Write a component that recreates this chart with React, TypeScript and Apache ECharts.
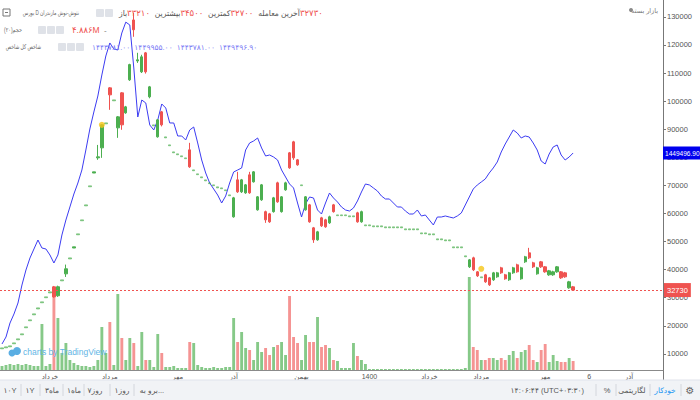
import React, { useEffect, useRef } from "react";
import * as echarts from "echarts";

const FONT = "'Liberation Sans', 'DejaVu Sans', Arial, sans-serif";

// ---- data ----
const SLOT_COUNT = 166;
const categories = Array.from({ length: SLOT_COUNT }, (_, i) => `d${i}`);
const monthTickIndex = [12, 27, 44, 58, 75, 92, 107, 120, 136, 147, 157];
const monthTickText = ["خرداد", "مرداد", "مهر", "آذر", "بهمن", "1400", "خرداد", "مرداد", "مهر", "6", "آذر"];

// [open, close, low, high]
const ohlc: number[][] = [
  [11800, 12160, 11800, 12160], [12160, 12520, 12160, 12520], [12520, 12880, 12520, 12880], [13600, 13940, 13600, 13940],
  [15000, 15370, 15000, 15370], [16800, 17150, 16800, 17150], [19300, 19640, 19300, 19640], [21800, 22130, 21800, 22130],
  [23900, 24270, 23900, 24270], [26000, 26400, 26000, 26400], [28200, 28540, 28200, 28540], [30000, 30320, 30000, 30320],
  [31700, 32100, 31700, 32100], [33880, 30320, 30000, 34200], [30700, 33900, 30300, 34300], [36000, 36370, 36000, 36370],
  [38500, 40300, 37400, 41800], [43800, 44200, 43800, 44200], [47700, 48120, 47700, 48120], [52400, 52750, 52400, 52750],
  [57400, 57730, 57400, 57730], [62700, 63070, 62700, 63070], [69500, 69840, 69500, 69840], [74400, 74820, 74400, 74820],
  [79800, 80160, 79100, 84400], [83360, 91550, 79800, 91800], [91900, 92260, 91900, 92260], [104720, 102230, 96900, 105000],
  [100100, 100450, 100100, 100450], [90480, 94400, 86920, 94700], [102940, 91550, 89800, 103200], [95820, 97960, 95500, 98300],
  [107570, 113000, 107200, 113300], [128900, 125400, 122900, 131400], [114300, 114700, 113600, 117200], [110420, 115760, 110000, 116500],
  [117180, 110420, 109800, 117500], [101520, 105080, 101000, 105400], [91200, 91550, 91200, 91550], [87280, 93330, 87000, 93600],
  [96180, 91550, 91000, 96500], [86900, 87280, 86900, 87280], [84100, 84430, 84100, 84430], [81600, 81940, 81600, 81940],
  [80900, 81230, 80900, 81230], [80200, 80520, 80200, 80520], [79500, 79800, 79500, 79800], [82650, 76600, 76240, 85140],
  [75200, 75530, 75200, 75530], [73800, 74110, 73800, 74110], [72700, 73040, 72700, 73040], [71600, 71970, 71600, 71970],
  [70600, 70900, 70600, 70900], [69900, 70190, 69900, 70190], [69100, 69480, 69100, 69480], [68800, 69120, 68800, 69120],
  [68100, 68410, 68100, 68410], [66300, 66630, 66300, 66630], [58800, 65560, 58500, 65900], [71970, 67700, 67300, 74820],
  [67700, 71970, 67300, 72300], [67340, 70190, 67000, 70500], [73750, 67340, 67000, 74820], [71260, 74820, 71000, 75100],
  [61290, 65920, 61000, 66200], [64850, 70190, 64500, 70500], [60640, 57730, 56660, 61000], [59870, 57020, 56660, 60200],
  [60640, 65560, 60300, 65900], [70900, 64140, 63800, 71300], [60640, 65920, 60300, 66200], [68410, 70900, 68100, 71300],
  [81580, 76240, 75900, 81900], [85500, 79800, 79090, 85860], [79090, 77310, 77000, 79400], [69900, 70190, 69900, 70190],
  [61290, 65920, 61000, 66200], [63070, 57020, 56700, 63400], [54880, 50610, 49540, 55200], [50610, 53460, 50300, 53800],
  [58440, 55600, 55200, 58800], [57730, 55240, 54900, 58100], [56660, 58800, 56300, 59200], [63070, 60640, 60300, 63400],
  [59200, 59510, 59200, 59510], [59200, 59510, 59200, 59510], [59200, 59510, 59200, 59510], [58800, 59160, 58800, 59160],
  [58800, 59160, 58800, 59160], [60220, 57020, 56700, 60600], [57020, 60640, 56700, 61000], [55600, 55950, 55600, 55950],
  [55600, 55950, 55600, 55950], [55240, 55600, 55240, 55600], [55240, 55600, 55240, 55600], [55240, 55600, 55240, 55600],
  [54880, 55240, 54880, 55240], [54880, 55240, 54880, 55240], [54880, 55240, 54880, 55240], [54880, 55240, 54880, 55240],
  [54880, 55240, 54880, 55240], [54170, 54530, 54170, 54530], [54170, 54530, 54170, 54530], [54170, 54530, 54170, 54530],
  [54170, 54530, 54170, 54530], [52750, 53100, 52750, 53100], [52750, 53100, 52750, 53100], [52390, 52750, 52390, 52750],
  [52390, 52750, 52390, 52750], [50610, 50970, 50610, 50970], [50610, 50970, 50610, 50970], [50250, 50610, 50250, 50610],
  [50250, 50610, 50250, 50610], [47760, 48120, 47760, 48120], [47760, 48120, 47760, 48120], [47760, 48120, 47760, 48120],
  [44560, 44920, 44560, 44920], [41000, 43490, 40600, 43800], [44200, 39930, 39500, 44600], [39220, 37800, 37400, 39500],
  [37100, 37440, 37100, 37440], [38150, 35660, 35300, 38500], [37080, 34590, 34200, 37400], [36370, 38860, 36000, 39200],
  [37440, 38860, 37100, 39200], [40640, 38860, 38500, 41000], [38150, 36730, 36400, 38500], [36370, 38860, 36000, 39200],
  [38860, 40640, 38500, 41000], [41710, 39220, 38900, 42100], [36730, 40640, 36400, 41000], [42780, 44560, 42400, 44900],
  [45980, 44200, 43800, 47760], [42420, 41000, 40600, 42800], [38510, 40640, 38200, 41000], [42780, 41000, 40600, 43100],
  [41000, 39220, 38900, 41300], [38150, 39580, 37800, 39900], [38150, 39220, 37800, 39600], [39220, 41000, 38900, 41300],
  [39220, 37080, 36700, 39500], [38860, 37440, 37100, 39200], [33520, 35660, 33200, 36000], [33880, 32730, 32500, 34200],
];

// volume, thousand shares
const volume: number[] = [
  200, 250, 300, 250, 300, 250, 300, 250, 200, 200,
  2300, 200, 300, 3700, 2600, 850, 1350, 500, 350, 250,
  200, 200, 150, 200, 500, 2150, 850, 2400, 250, 3800,
  1600, 500, 1600, 1350, 200, 1900, 500, 500, 150, 1800,
  850, 150, 150, 200, 100, 100, 100, 1400, 1350, 250,
  150, 100, 100, 150, 100, 100, 150, 150, 2600, 1400,
  1900, 1100, 1000, 500, 1400, 900, 1100, 750, 1150, 1250,
  1400, 750, 3700, 1650, 1350, 500, 1750, 1400, 1400, 2650,
  1150, 1250, 1100, 500, 450, 100, 100, 100, 1350, 700,
  500, 300, 50, 50, 50, 50, 50, 50, 50, 50,
  50, 50, 50, 50, 50, 50, 50, 50, 50, 50,
  50, 50, 50, 50, 50, 50, 100, 4650, 1150, 1000,
  500, 500, 600, 600, 500, 600, 500, 750, 950, 600,
  900, 1000, 1250, 500, 400, 1000, 1300, 400, 750, 450,
  400, 400, 600, 450,
];

// overall index (شاخص کل), thousands
const indexValues: number[] = [
  558.5, 591.1, 656.4, 698.4, 749.7, 833.7, 903.7, 959.7, 1001.7, 1043.6,
  1006.3, 1001.7, 973.7, 936.3, 973.7, 1067.0, 1136.9, 1197.6, 1258.2, 1309.5,
  1370.2, 1463.5, 1561.5, 1640.8, 1715.4, 1813.4, 1902.0, 1962.7, 1934.7, 1930.0,
  2009.3, 2060.0, 2046.6, 1846.0, 1617.4, 1696.7, 1682.8, 1580.1, 1556.8, 1603.4,
  1678.1, 1659.4, 1589.5, 1589.5, 1528.8, 1528.8, 1510.1, 1556.8, 1570.8, 1496.2,
  1416.8, 1356.2, 1309.5, 1281.6, 1253.6, 1216.2, 1248.9, 1309.5, 1360.9, 1370.2,
  1379.5, 1463.5, 1496.2, 1505.5, 1519.5, 1472.8, 1435.5, 1440.2, 1430.8, 1416.8,
  1370.2, 1337.5, 1304.9, 1286.2, 1216.2, 1150.9, 1211.6, 1244.2, 1239.6, 1183.6,
  1164.9, 1216.2, 1262.9, 1239.6, 1220.9, 1197.6, 1183.6, 1178.9, 1192.9, 1225.6,
  1267.6, 1304.9, 1300.2, 1286.2, 1272.2, 1248.9, 1234.9, 1234.9, 1216.2, 1197.6,
  1197.6, 1178.9, 1164.9, 1164.9, 1183.6, 1155.6, 1160.3, 1136.9, 1113.6, 1150.9,
  1150.9, 1155.6, 1150.9, 1146.3, 1155.6, 1169.6, 1206.9, 1244.2, 1281.6, 1300.2,
  1314.2, 1328.2, 1356.2, 1379.5, 1407.5, 1454.2, 1491.5, 1524.1, 1556.8, 1542.8,
  1519.5, 1528.8, 1524.1, 1496.2, 1463.5, 1412.2, 1398.2, 1444.8, 1477.5, 1486.8,
  1440.2, 1416.8, 1430.8, 1449.4969,
];

const markerIndex = [25, 120];
const markerPrice = [91550, 40290];
const lastPrice = 32730;
const lastIndexLabel = "1449496.90";

const ohlcLabels = ["باز", "بیشترین", "کمترین", "آخرین معامله"];
const ohlcValues = ["۳۳۲۱۰", "۳۴۵۰۰", "۳۲۷۰۰", "۳۲۷۳۰"];
const indexLegendValues = ["۱۴۴۳۷۸۱.۰۰", "۱۴۴۹۹۵۵.۰۰", "۱۴۴۳۷۸۱.۰۰", "۱۴۴۹۴۹۶.۹۰"];
const rangeButtons = ["۱۰Y", "۱Y", "۳ماه", "۱ماه", "۷روز", "۱روز", "برو به..."];

const UP = "#4caf50";
const DOWN = "#ef5350";
const UP_FAINT = "rgba(76,175,80,0.55)";

function txt(x: number, y: number, text: string, opts: any = {}) {
  return {
    type: "text",
    x,
    y,
    z: opts.z ?? 110,
    silent: true,
    scaleX: opts.scaleX ?? 1,
    style: {
      text,
      fill: opts.fill ?? "#555",
      fontSize: opts.fontSize ?? 7.5,
      fontFamily: opts.fontFamily ?? FONT,
      align: opts.align ?? "left",
      verticalAlign: "middle",
      ...(opts.rich ? { rich: opts.rich } : {}),
    },
  };
}

function box(x: number, y: number, z = 110) {
  return {
    type: "rect",
    z,
    silent: true,
    shape: { x, y, width: 8, height: 8, r: 1 },
    style: { fill: "#dfe2e8" },
  };
}

function sep(x: number) {
  return {
    type: "line",
    z: 110,
    silent: true,
    shape: { x1: x, y1: 384, x2: x, y2: 396 },
    style: { stroke: "#d3d6dc", lineWidth: 1 },
  };
}

export default function App() {
  const ref = useRef<HTMLDivElement>(null);

  useEffect(() => {
    if (!ref.current) return;
    const chart = echarts.init(ref.current, undefined, { renderer: "svg" });

    const rangeX = [10, 30, 52, 74, 95, 122, 152];
    const rangeSep = [21, 40, 63, 84, 110, 134];

    const baseGraphic: any[] = [
      // bottom toolbar
      { type: "rect", z: 100, silent: true, shape: { x: 0, y: 380, width: 700, height: 20 }, style: { fill: "#f1f3f6" } },
      { type: "line", z: 101, silent: true, shape: { x1: 0, y1: 380, x2: 700, y2: 380 }, style: { stroke: "#e0e3eb", lineWidth: 1 } },
      ...rangeButtons.map((t, i) => txt(rangeX[i], 390, t, { align: "center", fontSize: 7.5 })),
      ...rangeSep.map((x) => sep(x)),
      txt(584, 390, "۱۴:۰۶:۴۴ (UTC+۰۳:۳۰)", { align: "right", fontSize: 7.5 }),
      sep(596),
      txt(607, 390, "%", { align: "center", fontSize: 7.5 }),
      sep(616),
      txt(632, 390, "لگاریتمی", { align: "center", fontSize: 7.5 }),
      sep(650),
      txt(665, 390, "خودکار", { align: "center", fontSize: 7.5, fill: "#2196f3" }),
      sep(681),
      txt(690, 390, "⚙", { align: "center", fontSize: 10, fill: "#666" }),

      // legend row 1
      { type: "rect", z: 110, silent: true, shape: { x: 3, y: 9, width: 7, height: 7 }, style: { fill: "#fff", stroke: "#777", lineWidth: 1 } },
      { type: "line", z: 111, silent: true, shape: { x1: 5, y1: 12.5, x2: 8, y2: 12.5 }, style: { stroke: "#777", lineWidth: 1 } },
      txt(79, 13, "بورس D نتوش-نوش مازندران", { align: "right", fontSize: 6.5, fill: "#666", scaleX: 0.7 }),
      box(96, 9),
      box(105, 9),
      txt(119, 13, ohlcLabels.map((l, i) => `{l|${l}}{v|${ohlcValues[i]}}`).join("{s| }"), {
        scaleX: 0.95,
        rich: {
          l: { fill: "#555", fontSize: 8, fontFamily: FONT },
          v: { fill: DOWN, fontSize: 9, fontFamily: FONT },
          s: { width: 5 },
        },
      }),

      // legend row 2
      txt(22, 30, "حجم(۲۰)", { align: "right", fontSize: 6.5, fill: "#666", scaleX: 0.75 }),
      box(38, 26),
      box(47, 26),
      box(56, 26),
      txt(72, 30, "۴.۸۸۶M", { fontSize: 8.5, fill: DOWN }),
      txt(104, 30, "-", { fontSize: 8, fill: "#777" }),

      // legend row 3
      txt(41, 47, "شاخص کل شاخص", { align: "right", fontSize: 6.5, fill: "#666", scaleX: 0.7 }),
      box(58, 43),
      box(67, 43),
      box(76, 43),
      txt(92, 47, indexLegendValues.map((v) => `{v|${v}}`).join("{s| }"), {
        rich: { v: { fill: "#7b7bf5", fontSize: 7.5, fontFamily: FONT }, s: { width: 4 } },
      }),

      // market status
      { type: "circle", z: 110, silent: true, shape: { cx: 631, cy: 10, r: 2 }, style: { fill: "#8a8a8a" } },
      txt(658, 10, "بازار بسته", { align: "right", fontSize: 6.5, fill: "#777" }),

      // watermark
      { type: "circle", z: 90, silent: true, shape: { cx: 12, cy: 353, r: 3.5 }, style: { fill: "#5aaee3" } },
      { type: "circle", z: 90, silent: true, shape: { cx: 17, cy: 351, r: 4 }, style: { fill: "#5aaee3" } },
      txt(23, 352, "charts by TradingView", { fontSize: 8.5, fill: "#62b5e5", z: 90 }),
    ];

    // days that only show a tiny dash (no range) are drawn lighter, as in the source
    const candleData = ohlc.map((c) => {
      const flat = c[3] - c[2] <= 400;
      return flat
        ? { value: c, itemStyle: { color: UP_FAINT, borderColor: UP_FAINT } }
        : c;
    });

    const option: any = {
      animation: false,
      textStyle: { fontFamily: FONT },
      grid: [
        { left: 0, right: 37, top: 0, bottom: 18 },
        { left: 0, right: 37, top: 270, bottom: 30 },
      ],
      xAxis: [
        { type: "category", gridIndex: 0, data: categories, show: false, boundaryGap: true },
        {
          type: "category",
          gridIndex: 1,
          data: categories,
          boundaryGap: true,
          axisLine: { lineStyle: { color: "#8a8a8a" } },
          axisTick: {
            alignWithLabel: true,
            length: 3,
            interval: (i: number) => monthTickIndex.includes(i),
            lineStyle: { color: "#8a8a8a" },
          },
          axisLabel: {
            interval: (i: number) => monthTickIndex.includes(i),
            formatter: (_v: string, i: number) => {
              const k = monthTickIndex.indexOf(i);
              return k >= 0 ? monthTickText[k] : "";
            },
            fontSize: 7,
            color: "#555",
            margin: 3,
            fontFamily: FONT,
          },
          splitLine: { show: false },
        },
      ],
      yAxis: [
        {
          type: "value",
          gridIndex: 0,
          position: "right",
          min: 0,
          max: 136000,
          interval: 10000,
          axisLine: { show: true, lineStyle: { color: "#777" } },
          axisTick: { show: true, length: 3, lineStyle: { color: "#777" } },
          axisLabel: {
            fontSize: 7.5,
            color: "#555",
            margin: 4,
            showMinLabel: false,
            showMaxLabel: false,
            formatter: (v: number) => (v === 0 || v % 10000 !== 0 ? "" : String(v)),
          },
          splitLine: { show: false },
        },
        { type: "value", gridIndex: 0, min: 381.2, max: 2163.2, show: false },
        { type: "value", gridIndex: 1, min: 0, max: 5000, show: false },
      ],
      series: [
        {
          type: "bar",
          name: "حجم",
          xAxisIndex: 1,
          yAxisIndex: 2,
          data: volume,
          barWidth: "72%",
          z: 1,
          itemStyle: {
            color: (p: any) => {
              const c = ohlc[p.dataIndex];
              return c && c[1] >= c[0] ? "rgba(76,175,80,0.68)" : "rgba(239,83,80,0.62)";
            },
          },
        },
        {
          type: "line",
          name: "شاخص کل",
          xAxisIndex: 0,
          yAxisIndex: 1,
          data: indexValues,
          showSymbol: false,
          z: 3,
          lineStyle: { color: "#3c3cf2", width: 1 },
        },
        {
          type: "candlestick",
          name: "نتوش",
          xAxisIndex: 0,
          yAxisIndex: 0,
          data: candleData,
          barWidth: "72%",
          z: 4,
          itemStyle: { color: UP, color0: DOWN, borderColor: UP, borderColor0: DOWN, borderWidth: 1 },
          markLine: {
            silent: true,
            symbol: ["none", "none"],
            lineStyle: { color: DOWN, type: [2, 2], width: 1 },
            data: [{ yAxis: lastPrice }],
            label: {
              position: "end",
              distance: 1,
              formatter: String(lastPrice),
              color: "#fff",
              backgroundColor: DOWN,
              fontSize: 7.5,
              padding: [3, 3, 3, 3],
            },
          },
        },
        {
          type: "scatter",
          name: "رویداد",
          xAxisIndex: 0,
          yAxisIndex: 0,
          data: markerIndex.map((idx, i) => [idx, markerPrice[i]]),
          symbolSize: 6,
          z: 5,
          itemStyle: { color: "#f5c518" },
        },
      ],
      graphic: baseGraphic,
    };

    chart.setOption(option);

    // current index value tag on the price scale, placed through the index axis
    const lastIdx = indexValues[indexValues.length - 1];
    const py = chart.convertToPixel({ yAxisIndex: 1 }, lastIdx) as number;
    if (typeof py === "number" && isFinite(py)) {
      const tag: any[] = [
        { type: "rect", z: 120, silent: true, shape: { x: 663, y: py - 6.5, width: 37, height: 13 }, style: { fill: "#0000ee" } },
        {
          type: "text",
          z: 121,
          silent: true,
          x: 665,
          y: py,
          scaleX: 0.82,
          style: {
            text: lastIndexLabel,
            fill: "#fff",
            fontSize: 8,
            fontFamily: FONT,
            align: "left",
            verticalAlign: "middle",
          },
        },
      ];
      chart.setOption({ graphic: [...baseGraphic, ...tag] }, { replaceMerge: ["graphic"] });
    }

    return () => chart.dispose();
  }, []);

  return (
    <div
      ref={ref}
      style={{ position: "fixed", left: 0, top: 0, width: 700, height: 400, background: "#fff" }}
    />
  );
}
